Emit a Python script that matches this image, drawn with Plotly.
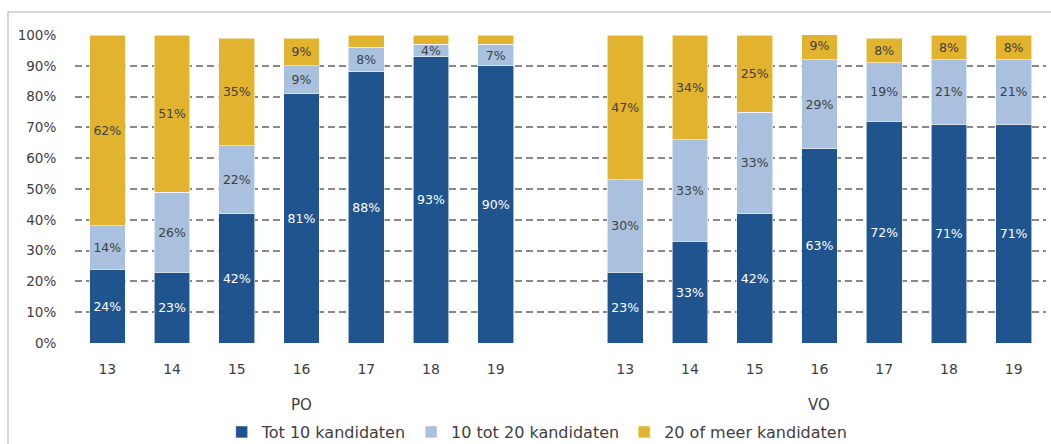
import plotly.graph_objects as go

# ---- data ----
groups = ["PO", "VO"]
years = ["13", "14", "15", "16", "17", "18", "19"]
series_names = ["Tot 10 kandidaten", "10 tot 20 kandidaten", "20 of meer kandidaten"]

po_tot10 = [24, 23, 42, 81, 88, 93, 90]
po_10tot20 = [14, 26, 22, 9, 8, 4, 7]
po_20meer = [62, 51, 35, 9, 4, 3, 3]

vo_tot10 = [23, 33, 42, 63, 72, 71, 71]
vo_10tot20 = [30, 33, 33, 29, 19, 21, 21]
vo_20meer = [47, 34, 25, 9, 8, 8, 8]

# labels that are not printed in the original
hidden_labels = {("20 of meer kandidaten", "PO", "17"),
                 ("20 of meer kandidaten", "PO", "18"),
                 ("20 of meer kandidaten", "PO", "19")}

colors = ["#20548f", "#a9c1df", "#e2b32f"]
text_colors = ["#ffffff", "#404040", "#404040"]
FONT = "DejaVu Sans"
GRAY = "#404040"

# ---- build category axis: PO years, spacer, VO years ----
gap = " "
categories = [f"{groups[0]}-{y}" for y in years] + [gap] + [f"{groups[1]}-{y}" for y in years]
ticktext = years + [""] + years

data = {
    series_names[0]: (po_tot10, vo_tot10),
    series_names[1]: (po_10tot20, vo_10tot20),
    series_names[2]: (po_20meer, vo_20meer),
}

fig = go.Figure()
for i, name in enumerate(series_names):
    po_vals, vo_vals = data[name]
    vals = list(po_vals) + [None] + list(vo_vals)
    texts = []
    for g, vlist in zip(groups, (po_vals, vo_vals)):
        for y, v in zip(years, vlist):
            texts.append("" if (name, g, y) in hidden_labels else f"{v}%")
        if g == groups[0]:
            texts.append("")
    fig.add_trace(go.Bar(
        x=categories, y=vals, name=name,
        marker=dict(color=colors[i], line=dict(color="rgba(255,255,255,0.7)", width=0.8)),
        text=texts, textposition="inside", insidetextanchor="middle",
        textangle=0, constraintext="none",
        textfont=dict(family=FONT, size=12.5, color=text_colors[i]),
        hoverinfo="skip",
    ))

# group labels
for g in groups:
    mid = f"{g}-{years[len(years) // 2]}"
    fig.add_annotation(x=mid, xref="x", y=-0.201, yref="paper", text=g,
                       showarrow=False, yanchor="middle",
                       font=dict(family=FONT, size=15, color=GRAY))

# outer frame (light gray border)
fig.add_shape(type="rect", xref="paper", yref="paper",
              x0=-0.069, x1=1.03, y0=-0.6, y1=1.0747,
              line=dict(color="#c9c9c9", width=1.5), fillcolor="rgba(0,0,0,0)", layer="below")

fig.update_layout(
    width=1051, height=444,
    margin=dict(l=75, r=5, t=35, b=101),
    paper_bgcolor="white", plot_bgcolor="white",
    barmode="stack", bargap=0.448,
    uniformtext=dict(minsize=12, mode="show"),
    showlegend=True,
    legend=dict(orientation="h", x=0.476, xanchor="center",
                yref="container", y=(444 - 432) / 444, yanchor="middle",
                font=dict(family=FONT, size=16, color=GRAY),
                itemwidth=30, traceorder="normal", bgcolor="rgba(0,0,0,0)"),
    font=dict(family=FONT, color=GRAY),
)
fig.update_xaxes(
    type="category", categoryorder="array", categoryarray=categories,
    tickmode="array", tickvals=categories, ticktext=ticktext,
    ticks="outside", ticklen=13, tickcolor="rgba(0,0,0,0)",
    tickfont=dict(family=FONT, size=14, color=GRAY),
    showgrid=False, showline=False, zeroline=False, automargin=False,
)
fig.update_yaxes(
    range=[0, 100], tickmode="array", tickvals=list(range(0, 101, 10)),
    ticktext=[f"{v}%" for v in range(0, 101, 10)],
    ticks="outside", ticklen=15, tickcolor="rgba(0,0,0,0)",
    tickfont=dict(family=FONT, size=13.5, color=GRAY),
    showgrid=True, gridcolor="#888888", gridwidth=2, griddash="7px,4px",
    zeroline=False, showline=False, automargin=False,
)

fig.write_html("out.html",
               config={"displayModeBar": False, "staticPlot": True},
               post_script="document.body.style.margin='0';document.body.style.overflow='hidden';")
